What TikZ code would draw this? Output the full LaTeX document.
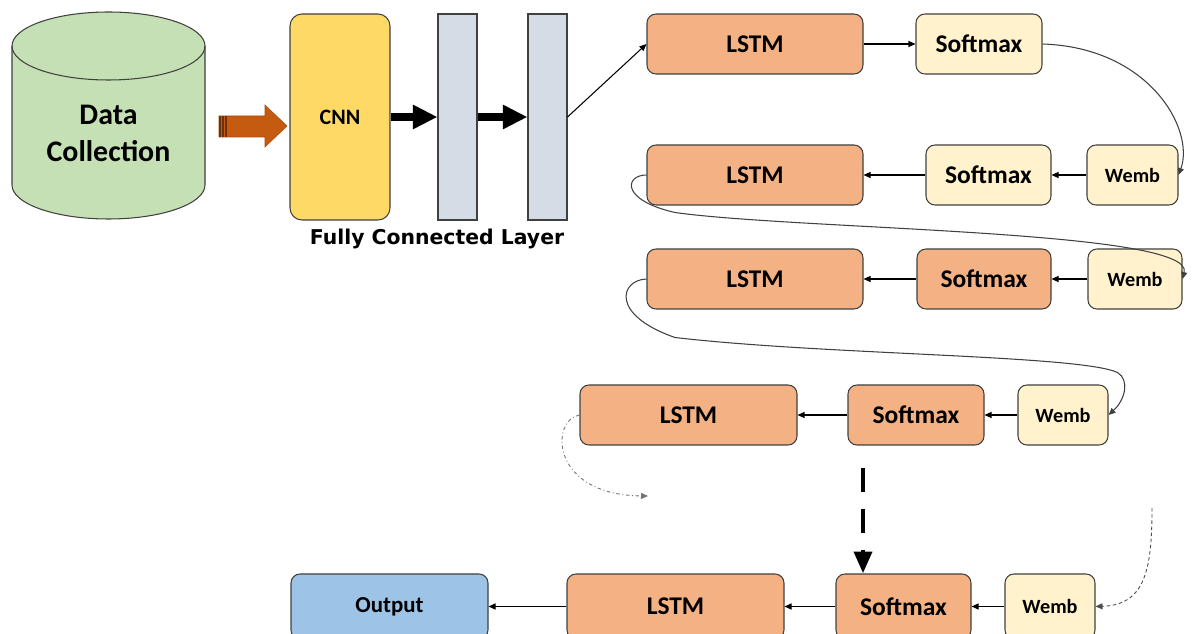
\documentclass[tikz,border=0pt]{standalone}
\usepackage{fontspec}
\setmainfont{Carlito}
\newfontfamily\layerfont{DejaVu Sans}
\usetikzlibrary{positioning, calc, arrows.meta}

\definecolor{dbgreen}{HTML}{C5E0B4}
\definecolor{feedorange}{HTML}{C55A11}
\definecolor{cnnyellow}{HTML}{FFD966}
\definecolor{fcgray}{HTML}{D6DCE5}
\definecolor{lstmorange}{HTML}{F4B183}
\definecolor{softcream}{HTML}{FFF2CC}
\definecolor{outblue}{HTML}{9DC3E6}
\definecolor{edgegray}{HTML}{404040}

\tikzset{
    edge/.style={draw=edgegray, line width=0.6pt},
    block/.style={edge, rounded corners=0.18cm, minimum height=1.2cm, inner sep=0pt,
        font=\bfseries\fontsize{14.5}{17}\selectfont},
    lstmbox/.style={block, fill=lstmorange, minimum width=4.32cm},
    softbox/.style={block, minimum width=2.6cm},
    wembbox/.style={block, fill=softcream, minimum width=1.82cm,
        font=\bfseries\fontsize{11.5}{14}\selectfont},
    lastrow/.style={minimum height=1.3cm},
    fcbar/.style={edge, fill=fcgray, minimum width=0.78cm, minimum height=4.12cm, inner sep=0pt},
    flow/.style={-{Triangle[length=1.4mm, width=1.2mm]}, line width=0.6pt},
    bigflow/.style={-{Triangle[length=14pt, width=13pt]}, line width=5pt},
    feedback/.style={flow, draw=black!75},
}

\begin{document}
\begin{tikzpicture}
    \useasboundingbox (0,0) rectangle (23.92,-12.68);

    % data store
    \fill[dbgreen] (0.24,-0.92) -- (0.24,-3.7)
        arc[start angle=180, end angle=360, x radius=1.93, y radius=0.68]
        -- (4.1,-0.92) arc[start angle=0, end angle=180, x radius=1.93, y radius=0.68] -- cycle;
    \draw[edge] (0.24,-0.92) -- (0.24,-3.7)
        arc[start angle=180, end angle=360, x radius=1.93, y radius=0.68] -- (4.1,-0.92);
    \draw[edge] (2.17,-0.92) ellipse[x radius=1.93, y radius=0.68];
    \node[font=\bfseries\fontsize{17}{21}\selectfont, align=center] (data) at (2.17,-2.66) {Data\\Collection};

    % block arrow into the CNN
    \fill[feedorange, draw=feedorange!85!black, line width=0.3pt]
        (4.38,-2.32) -- (5.3,-2.32) -- (5.3,-2.1) -- (5.74,-2.52)
        -- (5.3,-2.94) -- (5.3,-2.74) -- (4.38,-2.74) -- cycle;
    \fill[feedorange!55!black] (4.38,-2.32) rectangle (4.54,-2.74);
    \draw[feedorange, line width=0.8pt] (4.43,-2.32) -- (4.43,-2.74) (4.49,-2.32) -- (4.49,-2.74);

    \node[block, fill=cnnyellow, minimum width=2cm, minimum height=4.12cm, rounded corners=0.24cm,
        font=\bfseries\fontsize{12.5}{15}\selectfont] (cnn) at (6.8,-2.34) {CNN};
    \node[fcbar] (fc1) at (9.15,-2.34) {};
    \node[fcbar] (fc2) at (10.95,-2.34) {};
    \node[font=\layerfont\bfseries\fontsize{11.6}{13}\selectfont] (fclabel) at (8.74,-4.78) {Fully Connected Layer};

    \draw[bigflow] (cnn) -- (fc1);
    \draw[bigflow] (fc1) -- (fc2);

    % decoder rows
    \node[lstmbox] (lstm1) at (15.1,-0.88) {LSTM};
    \node[softbox, fill=softcream, minimum width=2.52cm] (soft1) at (19.58,-0.88) {Softmax};

    \node[lstmbox] (lstm2) at (15.1,-3.5) {LSTM};
    \node[softbox, fill=softcream, minimum width=2.5cm] (soft2) at (19.77,-3.5) {Softmax};
    \node[wembbox] (wemb2) at (22.65,-3.5) {Wemb};

    \node[lstmbox] (lstm3) at (15.1,-5.58) {LSTM};
    \node[softbox, fill=lstmorange, minimum width=2.68cm] (soft3) at (19.68,-5.58) {Softmax};
    \node[wembbox, minimum width=1.88cm] (wemb3) at (22.7,-5.58) {Wemb};

    \node[lstmbox, minimum width=4.34cm] (lstm4) at (13.77,-8.3) {LSTM};
    \node[softbox, fill=lstmorange, minimum width=2.72cm] (soft4) at (18.32,-8.3) {Softmax};
    \node[wembbox, minimum width=1.8cm] (wemb4) at (21.26,-8.3) {Wemb};

    \node[block, lastrow, fill=outblue, minimum width=3.94cm,
        font=\bfseries\fontsize{13}{15}\selectfont] (output) at (7.79,-12.13) {Output};
    \node[lstmbox, lastrow, minimum width=4.34cm] (lstm5) at (13.51,-12.13) {LSTM};
    \node[softbox, lastrow, fill=lstmorange, minimum width=2.7cm] (soft5) at (18.07,-12.13) {Softmax};
    \node[wembbox, lastrow, minimum width=1.8cm] (wemb5) at (21.0,-12.13) {Wemb};

    \draw[flow] (fc2.east) -- (lstm1.west);
    \draw[flow] (lstm1) -- (soft1);
    \draw[flow] (wemb2) -- (soft2);
    \draw[flow] (soft2) -- (lstm2);
    \draw[flow] (wemb3) -- (soft3);
    \draw[flow] (soft3) -- (lstm3);
    \draw[flow] (wemb4) -- (soft4);
    \draw[flow] (soft4) -- (lstm4);
    \draw[flow] (wemb5) -- (soft5);
    \draw[flow] (soft5) -- (lstm5);
    \draw[flow] (lstm5) -- (output);

    % feedback from one step to the next
    \draw[feedback] (soft1.east) .. controls (23.0,-0.95) and (23.9,-2.6) .. (wemb2.east);
    \draw[feedback] (lstm2.west) .. controls (12.5,-3.5) and (12.4,-4.0) .. (13.5,-4.25)
        .. controls (16.0,-4.6) and (23.9,-4.6) .. (wemb3.east);
    \draw[feedback] (lstm3.west) .. controls (12.4,-5.6) and (12.2,-6.3) .. (13.5,-6.75)
        .. controls (16.5,-7.1) and (21.6,-7.1) .. (22.35,-7.45)
        .. controls (22.6,-7.6) and (22.5,-8.0) .. (wemb4.east);

    \coordinate (nextin) at (12.96,-9.92);
    \draw[flow, draw=black!55, line width=0.5pt, dash pattern=on 2pt off 1.5pt on 0.5pt off 1.5pt]
        (lstm4.west) .. controls (11.0,-8.4) and (11.0,-9.9) .. (nextin);

    \coordinate (skipin) at (23.04,-10.16);
    \draw[flow, draw=black!70, line width=0.5pt, dash pattern=on 2pt off 1.5pt]
        (skipin) .. controls (23.04,-11.4) and (22.9,-12.1) .. (wemb5.east);

    \coordinate (skiptop) at (17.26,-9.36);
    \draw[-{Triangle[length=12.5pt, width=10pt]}, line width=2.8pt, dash pattern=on 0.48cm off 0.34cm]
        (skiptop) -- (skiptop |- soft5.north);
\end{tikzpicture}
\end{document}
